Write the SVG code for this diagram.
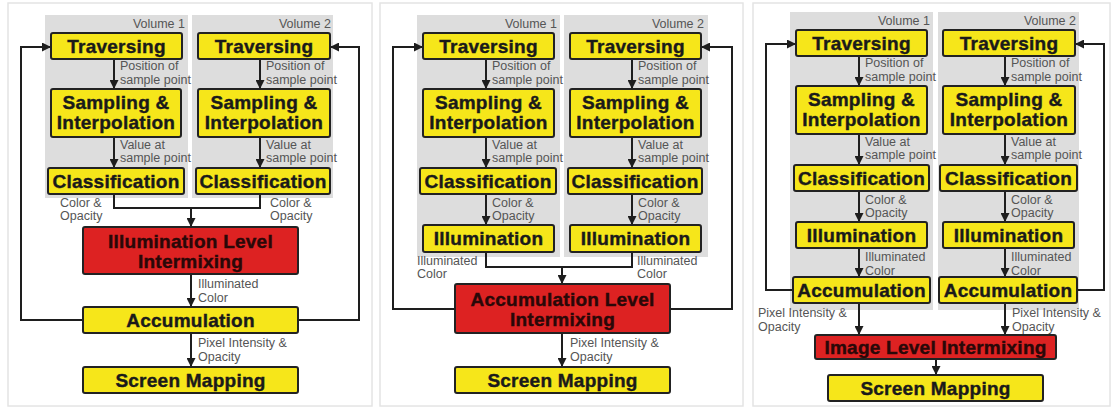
<svg xmlns="http://www.w3.org/2000/svg" width="1112" height="408" viewBox="0 0 1112 408">
  <defs>
    <marker id="arr" viewBox="0 0 10 10" refX="10" refY="5" markerWidth="9" markerHeight="9" markerUnits="userSpaceOnUse" orient="auto">
      <path d="M0,0 L10,5 L0,10 z" fill="#1e1e1e"/>
    </marker>
    <style>
      .panel { fill: #ffffff; stroke: #e4e4e4; stroke-width: 1.5; }
      .vol { fill: #dddddd; }
      .box { fill: #f6e61a; stroke: #222222; stroke-width: 2; }
      .mix { fill: #dd2222; stroke: #222222; stroke-width: 2; }
      .t { font-family: "Liberation Sans", Arial, sans-serif; font-weight: bold; font-size: 19px; fill: #1a1a1a; text-anchor: middle; letter-spacing: 0.25px; stroke: #1a1a1a; stroke-width: 0.4; }
      .tm { fill: #2a0808; stroke: #2a0808; }
      .lbl { font-family: "Liberation Sans", Arial, sans-serif; font-size: 12.5px; fill: #555555; }
      .vl { font-family: "Liberation Sans", Arial, sans-serif; font-size: 12.5px; fill: #555555; text-anchor: end; }
      .c { fill: none; stroke: #1e1e1e; stroke-width: 2; }
      .ca { fill: none; stroke: #1e1e1e; stroke-width: 2; marker-end: url(#arr); }
    </style>
  </defs>

  <rect width="1112" height="408" fill="#ffffff"/>

  <!-- panel frames -->
  <rect class="panel" x="8" y="3" width="364" height="403"/>
  <rect class="panel" x="380" y="3" width="363" height="403"/>
  <rect class="panel" x="753" y="3" width="357" height="403"/>

  <!-- volume backgrounds -->
  <rect class="vol" x="45" y="15" width="143" height="183"/>
  <rect class="vol" x="192" y="15" width="141" height="183"/>
  <rect class="vol" x="417" y="15" width="143" height="242"/>
  <rect class="vol" x="564" y="15" width="144" height="242"/>
  <rect class="vol" x="790" y="12" width="143" height="298"/>
  <rect class="vol" x="938" y="12" width="141" height="298"/>

  <g id="volume-labels">
    <text class="vl" x="185" y="28">Volume 1</text>
    <text class="vl" x="331" y="28">Volume 2</text>
    <text class="vl" x="557" y="28">Volume 1</text>
    <text class="vl" x="704" y="28">Volume 2</text>
    <text class="vl" x="930" y="25">Volume 1</text>
    <text class="vl" x="1076" y="25">Volume 2</text>
  </g>

  <!-- connectors -->
  <g id="connectors">
    <!-- illumination level intermixing -->
    <path class="ca" d="M114,59 V89"/>
    <path class="ca" d="M260,59 V89"/>
    <path class="ca" d="M114,137 V168"/>
    <path class="ca" d="M260,137 V168"/>
    <path class="c" d="M114,194 V208 H260 V194"/>
    <path class="ca" d="M191,208 V227"/>
    <path class="ca" d="M191,274 V307"/>
    <path class="ca" d="M191,333 V367"/>
    <path class="ca" d="M83,320 H21 V47 H51"/>
    <path class="ca" d="M298,320 H359 V47 H330"/>

    <!-- accumulation level intermixing -->
    <path class="ca" d="M486,59 V89"/>
    <path class="ca" d="M632,59 V89"/>
    <path class="ca" d="M486,137 V168"/>
    <path class="ca" d="M632,137 V168"/>
    <path class="ca" d="M486,194 V225"/>
    <path class="ca" d="M632,194 V225"/>
    <path class="c" d="M486,252 V267 H632 V252"/>
    <path class="ca" d="M562,267 V284"/>
    <path class="ca" d="M562,333 V367"/>
    <path class="ca" d="M455,309 H393 V47 H423"/>
    <path class="ca" d="M670,309 H732 V47 H701"/>

    <!-- image level intermixing -->
    <path class="ca" d="M859,56 V86"/>
    <path class="ca" d="M1005,56 V86"/>
    <path class="ca" d="M859,134 V165"/>
    <path class="ca" d="M1005,134 V165"/>
    <path class="ca" d="M859,191 V222"/>
    <path class="ca" d="M1005,191 V222"/>
    <path class="ca" d="M859,248 V277"/>
    <path class="ca" d="M1005,248 V277"/>
    <path class="ca" d="M859,303 V335"/>
    <path class="ca" d="M1005,303 V335"/>
    <path class="ca" d="M936,359 V375"/>
    <path class="ca" d="M793,290 H766 V44 H796"/>
    <path class="ca" d="M1077,290 H1104 V44 H1075"/>
  </g>

  <!-- connector labels -->
  <g id="connector-labels">
    <text class="lbl" x="120" y="70">Position of</text>
    <text class="lbl" x="120" y="84">sample point</text>
    <text class="lbl" x="266" y="70">Position of</text>
    <text class="lbl" x="266" y="84">sample point</text>
    <text class="lbl" x="120" y="149">Value at</text>
    <text class="lbl" x="120" y="162">sample point</text>
    <text class="lbl" x="266" y="149">Value at</text>
    <text class="lbl" x="266" y="162">sample point</text>
    <text class="lbl" x="60" y="207">Color &amp;</text>
    <text class="lbl" x="60" y="220">Opacity</text>
    <text class="lbl" x="270" y="207">Color &amp;</text>
    <text class="lbl" x="270" y="220">Opacity</text>
    <text class="lbl" x="198" y="288">Illuminated</text>
    <text class="lbl" x="198" y="302">Color</text>
    <text class="lbl" x="198" y="347">Pixel Intensity &amp;</text>
    <text class="lbl" x="198" y="361">Opacity</text>

    <text class="lbl" x="492" y="70">Position of</text>
    <text class="lbl" x="492" y="84">sample point</text>
    <text class="lbl" x="638" y="70">Position of</text>
    <text class="lbl" x="638" y="84">sample point</text>
    <text class="lbl" x="492" y="149">Value at</text>
    <text class="lbl" x="492" y="162">sample point</text>
    <text class="lbl" x="638" y="149">Value at</text>
    <text class="lbl" x="638" y="162">sample point</text>
    <text class="lbl" x="492" y="207">Color &amp;</text>
    <text class="lbl" x="492" y="220">Opacity</text>
    <text class="lbl" x="638" y="207">Color &amp;</text>
    <text class="lbl" x="638" y="220">Opacity</text>
    <text class="lbl" x="417" y="265">Illuminated</text>
    <text class="lbl" x="417" y="278">Color</text>
    <text class="lbl" x="637" y="265">Illuminated</text>
    <text class="lbl" x="637" y="278">Color</text>
    <text class="lbl" x="570" y="347">Pixel Intensity &amp;</text>
    <text class="lbl" x="570" y="361">Opacity</text>

    <text class="lbl" x="865" y="67">Position of</text>
    <text class="lbl" x="865" y="81">sample point</text>
    <text class="lbl" x="1011" y="67">Position of</text>
    <text class="lbl" x="1011" y="81">sample point</text>
    <text class="lbl" x="865" y="146">Value at</text>
    <text class="lbl" x="865" y="159">sample point</text>
    <text class="lbl" x="1011" y="146">Value at</text>
    <text class="lbl" x="1011" y="159">sample point</text>
    <text class="lbl" x="865" y="204">Color &amp;</text>
    <text class="lbl" x="865" y="217">Opacity</text>
    <text class="lbl" x="1011" y="204">Color &amp;</text>
    <text class="lbl" x="1011" y="217">Opacity</text>
    <text class="lbl" x="865" y="261">Illuminated</text>
    <text class="lbl" x="865" y="275">Color</text>
    <text class="lbl" x="1011" y="261">Illuminated</text>
    <text class="lbl" x="1011" y="275">Color</text>
    <text class="lbl" x="758" y="317">Pixel Intensity &amp;</text>
    <text class="lbl" x="758" y="331">Opacity</text>
    <text class="lbl" x="1012" y="317">Pixel Intensity &amp;</text>
    <text class="lbl" x="1012" y="331">Opacity</text>
  </g>

  <!-- pipeline 1: illumination level intermixing -->
  <g id="p1-traversing-1"><rect class="box" x="51" y="33" width="131" height="26" rx="2"/><text class="t" x="116.5" y="53">Traversing</text></g>
  <g id="p1-traversing-2"><rect class="box" x="198" y="33" width="132" height="26" rx="2"/><text class="t" x="264" y="53">Traversing</text></g>
  <g id="p1-sampling-1"><rect class="box" x="51" y="89" width="130" height="48" rx="2"/><text class="t" x="116" y="109">Sampling &amp;</text><text class="t" x="116" y="129">Interpolation</text></g>
  <g id="p1-sampling-2"><rect class="box" x="198" y="89" width="132" height="48" rx="2"/><text class="t" x="264" y="109">Sampling &amp;</text><text class="t" x="264" y="129">Interpolation</text></g>
  <g id="p1-classification-1"><rect class="box" x="48" y="168" width="136" height="26" rx="2"/><text class="t" x="116" y="188">Classification</text></g>
  <g id="p1-classification-2"><rect class="box" x="196" y="168" width="134" height="26" rx="2"/><text class="t" x="263" y="188">Classification</text></g>
  <g id="p1-intermixing"><rect class="mix" x="83" y="227" width="215" height="47" rx="2"/><text class="t tm" x="190.5" y="248">Illumination Level</text><text class="t tm" x="190.5" y="268">Intermixing</text></g>
  <g id="p1-accumulation"><rect class="box" x="83" y="307" width="215" height="26" rx="2"/><text class="t" x="190.5" y="327">Accumulation</text></g>
  <g id="p1-screen-mapping"><rect class="box" x="83" y="367" width="215" height="26" rx="2"/><text class="t" x="190.5" y="387">Screen Mapping</text></g>

  <!-- pipeline 2: accumulation level intermixing -->
  <g id="p2-traversing-1"><rect class="box" x="423" y="33" width="131" height="26" rx="2"/><text class="t" x="488.5" y="53">Traversing</text></g>
  <g id="p2-traversing-2"><rect class="box" x="570" y="33" width="131" height="26" rx="2"/><text class="t" x="635.5" y="53">Traversing</text></g>
  <g id="p2-sampling-1"><rect class="box" x="423" y="89" width="131" height="48" rx="2"/><text class="t" x="488.5" y="109">Sampling &amp;</text><text class="t" x="488.5" y="129">Interpolation</text></g>
  <g id="p2-sampling-2"><rect class="box" x="570" y="89" width="131" height="48" rx="2"/><text class="t" x="635.5" y="109">Sampling &amp;</text><text class="t" x="635.5" y="129">Interpolation</text></g>
  <g id="p2-classification-1"><rect class="box" x="420" y="168" width="136" height="26" rx="2"/><text class="t" x="488" y="188">Classification</text></g>
  <g id="p2-classification-2"><rect class="box" x="568" y="168" width="134" height="26" rx="2"/><text class="t" x="635" y="188">Classification</text></g>
  <g id="p2-illumination-1"><rect class="box" x="423" y="225" width="131" height="27" rx="2"/><text class="t" x="488.5" y="245">Illumination</text></g>
  <g id="p2-illumination-2"><rect class="box" x="570" y="225" width="131" height="27" rx="2"/><text class="t" x="635.5" y="245">Illumination</text></g>
  <g id="p2-intermixing"><rect class="mix" x="455" y="284" width="215" height="49" rx="2"/><text class="t tm" x="562.5" y="306">Accumulation Level</text><text class="t tm" x="562.5" y="326">Intermixing</text></g>
  <g id="p2-screen-mapping"><rect class="box" x="455" y="367" width="215" height="26" rx="2"/><text class="t" x="562.5" y="387">Screen Mapping</text></g>

  <!-- pipeline 3: image level intermixing -->
  <g id="p3-traversing-1"><rect class="box" x="796" y="30" width="131" height="26" rx="2"/><text class="t" x="861.5" y="50">Traversing</text></g>
  <g id="p3-traversing-2"><rect class="box" x="943" y="30" width="132" height="26" rx="2"/><text class="t" x="1009" y="50">Traversing</text></g>
  <g id="p3-sampling-1"><rect class="box" x="796" y="86" width="131" height="48" rx="2"/><text class="t" x="861.5" y="106">Sampling &amp;</text><text class="t" x="861.5" y="126">Interpolation</text></g>
  <g id="p3-sampling-2"><rect class="box" x="943" y="86" width="132" height="48" rx="2"/><text class="t" x="1009" y="106">Sampling &amp;</text><text class="t" x="1009" y="126">Interpolation</text></g>
  <g id="p3-classification-1"><rect class="box" x="794" y="165" width="135" height="26" rx="2"/><text class="t" x="861.5" y="185">Classification</text></g>
  <g id="p3-classification-2"><rect class="box" x="940" y="165" width="137" height="26" rx="2"/><text class="t" x="1008.5" y="185">Classification</text></g>
  <g id="p3-illumination-1"><rect class="box" x="796" y="222" width="131" height="26" rx="2"/><text class="t" x="861.5" y="242">Illumination</text></g>
  <g id="p3-illumination-2"><rect class="box" x="943" y="222" width="131" height="26" rx="2"/><text class="t" x="1008.5" y="242">Illumination</text></g>
  <g id="p3-accumulation-1"><rect class="box" x="793" y="277" width="137" height="26" rx="2"/><text class="t" x="861.5" y="297">Accumulation</text></g>
  <g id="p3-accumulation-2"><rect class="box" x="939" y="277" width="138" height="26" rx="2"/><text class="t" x="1008" y="297">Accumulation</text></g>
  <g id="p3-intermixing"><rect class="mix" x="815" y="335" width="241" height="24" rx="2"/><text class="t tm" x="935.5" y="354">Image Level Intermixing</text></g>
  <g id="p3-screen-mapping"><rect class="box" x="828" y="375" width="215" height="26" rx="2"/><text class="t" x="935.5" y="395">Screen Mapping</text></g>
</svg>
